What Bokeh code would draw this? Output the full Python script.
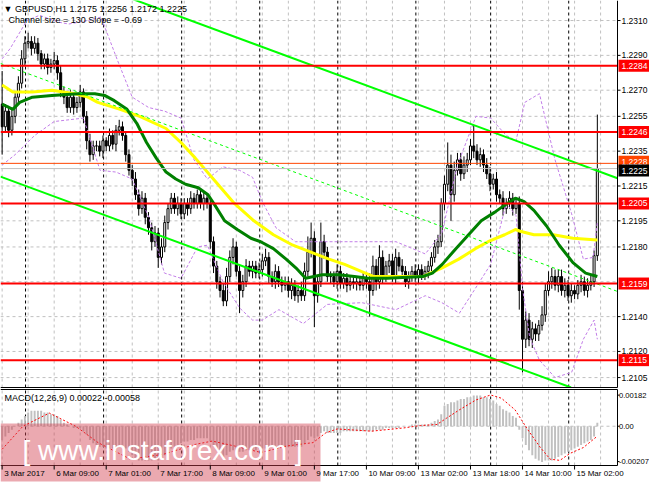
from bokeh.plotting import figure
from bokeh.layouts import column
from bokeh.models import ColumnDataSource, Range1d
from bokeh.core.properties import value
from bokeh.embed import file_html
from bokeh.resources import INLINE

# ---------------- data ----------------
first_open = 1.2262
closes = [
    1.2249, 1.2258, 1.2247, 1.2255, 1.2266, 1.2274, 1.2288, 1.2297, 1.2298, 1.2294,
    1.2297, 1.2291, 1.2285, 1.2288, 1.2283, 1.2285, 1.2287, 1.2280, 1.2269, 1.2266,
    1.2260, 1.2266, 1.2260, 1.2263, 1.2269, 1.2255, 1.2241, 1.2233, 1.2238, 1.2238,
    1.2235, 1.2241, 1.2238, 1.2244, 1.2239, 1.2247, 1.2249, 1.2244, 1.2233, 1.2224,
    1.2219, 1.2210, 1.2202, 1.2208, 1.2197, 1.2191, 1.2183, 1.2188, 1.2174, 1.2180,
    1.2194, 1.2202, 1.2208, 1.2202, 1.2205, 1.2199, 1.2205, 1.2202, 1.2208, 1.2205,
    1.2210, 1.2205, 1.2208, 1.2205, 1.2183, 1.2169, 1.2160, 1.2155, 1.2149, 1.2163,
    1.2174, 1.2180, 1.2166, 1.2155, 1.2160, 1.2169, 1.2166, 1.2169, 1.2165, 1.2167,
    1.2172, 1.2174, 1.2163, 1.2160, 1.2166, 1.2160, 1.2158, 1.2160, 1.2155, 1.2158,
    1.2152, 1.2155, 1.2152, 1.2166, 1.2177, 1.2185, 1.2152, 1.2160, 1.2183, 1.2177,
    1.2163, 1.2163, 1.2160, 1.2166, 1.2159, 1.2162, 1.2158, 1.2160, 1.2159, 1.2160,
    1.2158, 1.2162, 1.2160, 1.2155, 1.2169, 1.2160, 1.2174, 1.2163, 1.2169, 1.2172,
    1.2163, 1.2174, 1.2169, 1.2166, 1.2160, 1.2163, 1.2166, 1.2163, 1.2167, 1.2164,
    1.2166, 1.2169, 1.2174, 1.2180, 1.2183, 1.2205, 1.2216, 1.2227, 1.2210, 1.2224,
    1.2230, 1.2222, 1.2227, 1.2230, 1.2238, 1.2235, 1.2230, 1.2233, 1.2227, 1.2222,
    1.2216, 1.2219, 1.2210, 1.2208, 1.2202, 1.2205, 1.2208, 1.2202, 1.2205, 1.2155,
    1.2127, 1.2138, 1.2127, 1.2133, 1.2130, 1.2135, 1.2141, 1.2155, 1.2160, 1.2163,
    1.2158, 1.2163, 1.2155, 1.2158, 1.2152, 1.2155, 1.2153, 1.2158, 1.2160, 1.2155,
    1.2158, 1.2160, 1.2175, 1.2225,
]
up_wick_pips = [
    19, 4, 3, 5, 3, 4, 5, 4, 5, 3,
    4, 3, 2, 3, 3, 3, 5, 3, 4, 3,
    3, 4, 3, 3, 4, 2, 3, 4, 3, 3,
    3, 3, 2, 4, 3, 3, 4, 3, 2, 3,
    3, 4, 3, 4, 3, 3, 3, 4, 3, 5,
    4, 3, 3, 3, 4, 3, 3, 3, 4, 3,
    3, 3, 3, 3, 2, 3, 3, 3, 4, 5,
    4, 5, 3, 3, 4, 4, 3, 3, 3, 4,
    4, 5, 3, 3, 4, 3, 3, 3, 3, 4,
    3, 3, 5, 5, 9, 9, 4, 4, 11, 4,
    3, 3, 3, 4, 3, 3, 3, 3, 3, 3,
    3, 3, 3, 5, 6, 4, 7, 4, 3, 4,
    4, 5, 3, 4, 3, 3, 3, 4, 3, 3,
    3, 3, 3, 4, 4, 3, 5, 13, 6, 5,
    4, 4, 5, 4, 4, 12, 4, 4, 3, 4,
    4, 3, 4, 3, 4, 3, 4, 3, 3, 4,
    5, 5, 4, 4, 3, 3, 5, 4, 6, 5,
    4, 4, 4, 4, 3, 4, 3, 3, 4, 3,
    4, 4, 3, 31,
]
down_wick_pips = [
    16, 3, 4, 3, 4, 3, 3, 4, 3, 4,
    3, 4, 3, 3, 4, 3, 3, 4, 3, 4,
    3, 3, 4, 3, 3, 4, 5, 4, 3, 3,
    3, 4, 3, 3, 3, 4, 3, 3, 4, 3,
    4, 3, 4, 3, 4, 4, 5, 3, 6, 4,
    3, 4, 3, 3, 4, 3, 3, 4, 3, 3,
    3, 3, 4, 3, 4, 4, 4, 4, 3, 3,
    3, 4, 3, 13, 4, 3, 3, 4, 3, 3,
    4, 3, 4, 3, 4, 3, 4, 3, 4, 5,
    3, 4, 3, 3, 3, 3, 18, 4, 3, 4,
    3, 4, 3, 4, 3, 3, 4, 3, 3, 4,
    3, 3, 4, 15, 3, 5, 4, 4, 3, 4,
    3, 4, 3, 4, 3, 4, 3, 3, 4, 3,
    3, 4, 3, 3, 4, 3, 4, 4, 15, 4,
    3, 4, 3, 4, 3, 4, 3, 4, 4, 3,
    4, 3, 4, 3, 4, 3, 3, 4, 3, 11,
    19, 5, 4, 5, 4, 4, 3, 4, 3, 4,
    3, 4, 3, 4, 3, 4, 3, 3, 4, 3,
    4, 3, 3, 3,
]

levels = [1.2284, 1.2246, 1.2205, 1.2159, 1.2115]
ask_price = 1.2228
bid_price = 1.2225

price_ticks = [1.2310, 1.2290, 1.2270, 1.2255, 1.2235, 1.2215, 1.2195, 1.2180, 1.2140, 1.2120, 1.2105]
price_grid = price_ticks + [1.2160]
time_tick_bars = [0, 16, 32, 48, 64, 80, 96, 112, 128, 144, 160, 176]
time_tick_labels = ["3 Mar 2017", "6 Mar 09:00", "7 Mar 01:00", "7 Mar 17:00", "8 Mar 09:00",
                    "9 Mar 01:00", "9 Mar 17:00", "10 Mar 09:00", "13 Mar 02:00", "13 Mar 18:00",
                    "14 Mar 10:00", "15 Mar 02:00"]
day_start_bars = [7, 31, 55, 79, 103, 127, 150, 174]
grid_bars = list(range(0, 190, 8))

ma_green_bars = [0, 3.3, 5.4, 9.3, 15.3, 23.4, 28.5, 31.5, 34.5, 38.4, 41.4, 44.4, 47.4, 50.4, 53.4,
                 56.4, 60.3, 63.3, 65.4, 68.4, 72.3, 76.5, 79.5, 83.4, 87.3, 90.3, 93.3, 98.4, 103.5,
                 108.3, 112.5, 118.5, 129.3, 132.3, 135.3, 139.5, 143.4, 147.3, 151.5, 154.5, 157.8,
                 160.5, 163.5, 167.4, 171.3, 175.5, 179.4, 183]
ma_green_vals = [1.2262, 1.2259, 1.2263, 1.2266, 1.2267, 1.2268, 1.2268, 1.2267, 1.2264, 1.2259,
                 1.2251, 1.2240, 1.2231, 1.2223, 1.2219, 1.2216, 1.2214, 1.2210, 1.2204, 1.2195,
                 1.2190, 1.2185, 1.2183, 1.2179, 1.2173, 1.2168, 1.2162, 1.2164, 1.2164, 1.2163,
                 1.2162, 1.2162, 1.2163, 1.2165, 1.2170, 1.2179, 1.2187, 1.2195, 1.2200, 1.2204,
                 1.2208, 1.2206, 1.2201, 1.2192, 1.2181, 1.2171, 1.2165, 1.2163]
ma_yellow_bars = [0, 3.3, 9.3, 15.3, 22.5, 26.4, 29.4, 36.3, 42.3, 50.4, 55.5, 59.4, 65.4, 71.4,
                  77.4, 83.4, 89.4, 96.3, 100.5, 105.3, 110.4, 114.3, 119.4, 129.3, 135.3, 140.4,
                  145.5, 149.4, 154.5, 157.8, 159.3, 163.5, 169.5, 175.5, 183]
ma_yellow_vals = [1.2273, 1.2269, 1.2269, 1.2270, 1.2268, 1.2266, 1.2263, 1.2259, 1.2255, 1.2248,
                  1.2239, 1.2231, 1.2218, 1.2205, 1.2195, 1.2187, 1.2181, 1.2176, 1.2173, 1.2170,
                  1.2166, 1.2163, 1.2163, 1.2163, 1.2168, 1.2173, 1.2179, 1.2183, 1.2187, 1.2190,
                  1.2189, 1.2187, 1.2187, 1.2185, 1.2184]

band_upper_bars = [0, 2.5, 7.6, 11.5, 17.5, 20.5, 26.5, 30.4, 35.5, 40, 45.1, 49.9, 55, 59, 63.1,
                   67.9, 73, 77, 80, 84.2, 90.2, 100, 110.6, 121.1, 130.1, 135.2, 140, 145.7, 150.2,
                   155, 158, 160.7, 165.2, 170, 175.1, 178.7, 181.7, 183]
band_upper_vals = [1.2288, 1.2294, 1.2310, 1.2313, 1.2309, 1.2308, 1.2310, 1.2312, 1.2287, 1.2266,
                   1.2260, 1.2258, 1.2254, 1.2230, 1.2219, 1.2226, 1.2224, 1.2220, 1.2206, 1.2191,
                   1.2183, 1.2183, 1.2183, 1.2183, 1.2176, 1.2188, 1.2227, 1.2255, 1.2254, 1.2244,
                   1.2241, 1.2263, 1.2268, 1.2230, 1.2199, 1.2173, 1.2174, 1.2194]
band_lower_bars = [0, 4, 10, 16, 25, 30.1, 35, 40, 45.1, 49.9, 55, 60.1, 63.1, 67.9, 73, 77, 80,
                   85.1, 92.6, 100, 110.6, 121.1, 130.1, 135.2, 140.6, 145.1, 150.2, 155, 158,
                   160.1, 162.2, 165.2, 170, 175.1, 178.7, 182, 183]
band_lower_vals = [1.2227, 1.2233, 1.2244, 1.2252, 1.2254, 1.2224, 1.2223, 1.2219, 1.2197, 1.2165,
                   1.2162, 1.2180, 1.2181, 1.2160, 1.2145, 1.2138, 1.2138, 1.2144, 1.2136, 1.2147,
                   1.2148, 1.2144, 1.2152, 1.2148, 1.2142, 1.2155, 1.2170, 1.2205, 1.2198, 1.2155,
                   1.2128, 1.2115, 1.2105, 1.2108, 1.2127, 1.2138, 1.2127]

channel_upper_at_bar0 = 1.2350
channel_slope_pips = -0.69
channel_size_pips = 130

macd_hist_e4 = [
    -8, -6, -4, -2, 0, 2, 4, 6, 8, 9,
    9, 9, 9, 8, 8, 7, 7, 6, 4, 2,
    1, 0, -1, -1, -1, -3, -5, -8, -10, -11,
    -12, -12, -13, -13, -13, -12, -12, -12, -13, -15,
    -17, -19, -20, -20, -20, -20, -20, -19, -20, -19,
    -17, -15, -13, -12, -11, -10, -9, -9, -8, -8,
    -7, -7, -7, -7, -9, -11, -14, -16, -18, -17,
    -15, -14, -14, -15, -15, -14, -14, -14, -14, -13,
    -13, -13, -13, -12, -12, -12, -12, -12, -12, -12,
    -12, -12, -12, -10, -8, -6, -7, -6, -4, -3,
    -4, -4, -4, -4, -4, -3, -3, -3, -3, -3,
    -3, -3, -3, -3, -3, -2, -2, -2, -1, -1,
    -1, -1, -1, 0, 0, 0, 1, 1, 1, 1,
    1, 1, 2, 3, 4, 7, 12, 13, 14, 14,
    15, 16, 16, 17, 17, 18, 18, 18, 17, 17,
    16, 15, 13, 12, 10, 9, 8, 6, 5, -2,
    -7, -11, -14, -17, -19, -20, -21, -20, -20, -20,
    -19, -18, -17, -16, -15, -14, -13, -12, -11, -10,
    -9, -8, -6, 2,
]
macd_sig_bars = [0, 6.4, 14.5, 22.6, 29.5, 39.4, 49.6, 59.5, 64.6, 71.5, 79.6, 87.5, 95.6, 99.5,
                 103, 113.6, 123.5, 128.6, 133.7, 136.7, 140.6, 145.7, 150.2, 153.5, 157.7, 161.6,
                 165.5, 168.5, 171.5, 174.5, 178.7, 183]
macd_sig_vals = [-0.00135, 0.0, 0.00077, 0.0, -0.00096, -0.00193, -0.00164, -0.00106, -0.00087,
                 -0.00116, -0.00154, -0.00116, -0.00096, -0.00039, -0.00016, -0.00029, -0.0001,
                 0.00004, 0.0001, 0.00048, 0.00096, 0.00154, 0.00183, 0.00164, 0.00096, -0.0002,
                 -0.00125, -0.00193, -0.002, -0.0016, -0.00125, -0.00058]
macd_ticks = [0.00182, 0.0, -0.00207]
macd_tick_labels = ["0.00182", "0.00", "-0.00207"]

header_text = "\u25bc GBPUSD,H1  1.2175 1.2256 1.2172 1.2225"
channel_text = "Channel size = 130 Slope = -0.69"
macd_text = "MACD(12,26,9) 0.00022 -0.00058"
watermark_text = "[ www.instaforex.com ]"

# ---------------- geometry (pixels of the layout) ----------------
W = 649            # whole canvas width
CHART_W = 617      # width of the chart area, axis strip to its right
MAIN_H = 388       # main figure height (price panel 0..387)
PANEL_H = 387
SUB_H = 95         # MACD figure height (panel 1..77, time labels below)
FONT = "Liberation Sans"
GRID = "#C0C0C0"
BAND = "#C27EE8"

X0, X1 = -0.5, 189.2                      # bar range of the chart area
ppb = CHART_W / (X1 - X0)                 # pixels per bar
XR = X0 + W / ppb
def bpx(px):
    return px / ppb

PT, PBOT = 1.23215, 1.20993               # price at top / bottom of the price panel
ppp = (PT - PBOT) / PANEL_H               # price per pixel
PB = PT - MAIN_H * ppp

M1, M0 = 0.00215, -0.0023                 # MACD value at panel top (px 1) / bottom (px 77)
mpp = (M1 - M0) / 76.0
MT = M1 + 1 * mpp
MB = M1 - (SUB_H - 1) * mpp
def mpx(px):
    return M1 - (px - 1) * mpp

PIP = 0.0001
n = len(closes)
bars = list(range(n))
opens = [first_open] + closes[:-1]
highs = [max(o, c) + u * PIP for o, c, u in zip(opens, closes, up_wick_pips)]
lows = [min(o, c) - d * PIP for o, c, d in zip(opens, closes, down_wick_pips)]
src = ColumnDataSource(dict(
    x=bars, h=highs, l=lows,
    top=[max(o, c) for o, c in zip(opens, closes)],
    bot=[min(o, c) for o, c in zip(opens, closes)],
    fill=["white" if c >= o else "black" for o, c in zip(opens, closes)],
))

def make_fig(h, y0, y1):
    f = figure(frame_width=W, frame_height=h, x_range=Range1d(X0, XR), y_range=Range1d(y0, y1),
               output_backend="svg", toolbar_location=None,
               x_axis_location=None, y_axis_location=None, min_border=0)
    f.grid.visible = False
    f.outline_line_color = None
    f.background_fill_color = "white"
    f.border_fill_color = "white"
    return f

def txt(f, x, y, t, size="8.5px", color="black", align="left", baseline="middle", xo=0, yo=0,
        font=FONT):
    f.text(x=[x], y=[y], text=[t], text_font=value(font), text_font_size=value(size),
           text_color=color, text_align=align, text_baseline=baseline, x_offset=xo, y_offset=yo)

def vgrid(f, ylo, yhi):
    f.segment(x0=grid_bars, y0=[ylo] * len(grid_bars), x1=grid_bars, y1=[yhi] * len(grid_bars),
              line_color=GRID, line_width=1, line_dash="3 3")
    sep = [b + 0.2 for b in day_start_bars]
    f.segment(x0=sep, y0=[ylo] * len(sep), x1=sep, y1=[yhi] * len(sep),
              line_color="black", line_width=1, line_dash="3 3")

# ---------------- main price panel ----------------
p = make_fig(MAIN_H, PB, PT)
p.segment(x0=[X0] * len(price_grid), y0=price_grid, x1=[X1] * len(price_grid), y1=price_grid,
          line_color=GRID, line_width=1, line_dash="3 3")
vgrid(p, PBOT, PT)

p.segment(x0="x", y0="l", x1="x", y1="h", source=src, line_color="black", line_width=1)
p.vbar(x="x", top="top", bottom="bot", width=0.62, source=src, fill_color="fill",
       line_color="black", line_width=1)

p.line(band_upper_bars, band_upper_vals, line_color=BAND, line_width=1, line_dash="3 2")
p.line(band_lower_bars, band_lower_vals, line_color=BAND, line_width=1, line_dash="3 2")

p.line(ma_yellow_bars, ma_yellow_vals, line_color="#FFFF00", line_width=3)
p.line(ma_green_bars, ma_green_vals, line_color="#008000", line_width=3)

slope = channel_slope_pips * PIP
size = channel_size_pips * PIP
def chan(b, off):
    return channel_upper_at_bar0 + slope * b - off
low_end = min(X1, (channel_upper_at_bar0 - size - PBOT) / -slope)   # lower line leaves the panel
p.line([X0, X1], [chan(X0, 0), chan(X1, 0)], line_color="#00FF00", line_width=2)
p.line([X0, low_end], [chan(X0, size), chan(low_end, size)], line_color="#00FF00", line_width=2)
p.line([X0, X1], [chan(X0, size / 2), chan(X1, size / 2)], line_color="#00FF00", line_width=1,
       line_dash="3 3")

p.segment(x0=[X0] * len(levels), y0=levels, x1=[X1] * len(levels), y1=levels,
          line_color="#FF0000", line_width=2)
p.segment(x0=[X0], y0=[ask_price], x1=[X1], y1=[ask_price], line_color="#FF4500", line_width=1)
p.segment(x0=[X0], y0=[bid_price], x1=[X1], y1=[bid_price], line_color="#C0C0C0", line_width=1)

# frame of the price panel and its scale
p.segment(x0=[X1], y0=[PBOT], x1=[X1], y1=[PT], line_color="black", line_width=1)
p.segment(x0=[X0], y0=[PBOT], x1=[X1], y1=[PBOT], line_color="black", line_width=1)
p.segment(x0=[X1] * len(price_ticks), y0=price_ticks, x1=[X1 + bpx(3)] * len(price_ticks),
          y1=price_ticks, line_color="black", line_width=1)
for t in price_ticks:
    txt(p, X1 + bpx(4), t, f"{t:.4f}")

def tag(yv, t, bg):
    h = 6 * ppp
    p.quad(left=[X1 + bpx(1)], right=[XR], top=[yv + h], bottom=[yv - h], fill_color=bg,
           line_color=None)
    txt(p, X1 + bpx(4), yv, t, color="white")

for lv in levels:
    tag(lv, f"{lv:.4f}", "#FF0000")
tag(ask_price + 1.5 * ppp, f"{ask_price:.4f}", "#FF4500")
tag(bid_price - 2 * ppp, f"{bid_price:.4f}", "black")

txt(p, X0, PT, header_text, size="9px", xo=3, yo=3, baseline="top")
txt(p, X0, PT, channel_text, size="9px", xo=8, yo=14, baseline="top")

# ---------------- MACD panel ----------------
m = make_fig(SUB_H, MB, MT)
m.segment(x0=[X0], y0=[0.0], x1=[X1], y1=[0.0], line_color=GRID, line_width=1, line_dash="3 3")
vgrid(m, M0, M1)
m.vbar(x=bars, top=[v * PIP for v in macd_hist_e4], bottom=0, width=0.6,
       fill_color="#C0C0C0", line_color=None)
m.line(macd_sig_bars, macd_sig_vals, line_color="#FF0000", line_width=1, line_dash="2 2")

m.segment(x0=[X0, X0], y0=[M1, M0], x1=[X1, X1], y1=[M1, M0], line_color="black", line_width=1)
m.segment(x0=[X1], y0=[M0], x1=[X1], y1=[M1], line_color="black", line_width=1)
m.segment(x0=[X1] * len(macd_ticks), y0=macd_ticks, x1=[X1 + bpx(2)] * len(macd_ticks),
          y1=macd_ticks, line_color="black", line_width=1)
for t, s in zip(macd_ticks, macd_tick_labels):
    txt(m, X1 + bpx(1.5), t, s, size="7.6px")

txt(m, X0, M1, macd_text, size="9px", xo=4, yo=3, baseline="top")

# watermark box (semi-transparent) and its text
m.quad(left=[X0], right=[X0 + bpx(320)], top=[mpx(35)], bottom=[mpx(93)],
       fill_color="#D2404F", fill_alpha=0.45, line_color=None)
txt(m, X0 + bpx(162), mpx(62), watermark_text, size="28px", color="white", align="center")

# time scale
m.segment(x0=time_tick_bars, y0=[M0] * len(time_tick_bars), x1=time_tick_bars,
          y1=[mpx(81)] * len(time_tick_bars), line_color="black", line_width=1)
for b, t in zip(time_tick_bars, time_tick_labels):
    txt(m, b, mpx(85), t, size="8px", xo=2)

layout = column(p, m)
open("out.html", "w").write(file_html(layout, INLINE))
